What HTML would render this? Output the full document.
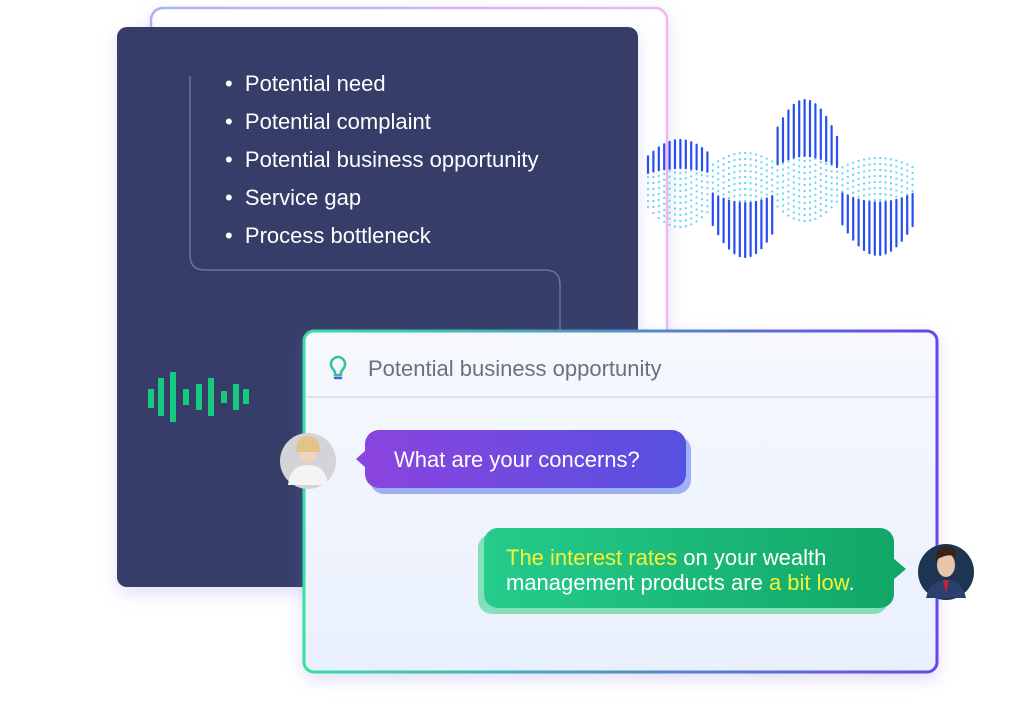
<!DOCTYPE html>
<html><head><meta charset="utf-8"><style>
html,body{margin:0;padding:0;background:#fff;width:1024px;height:725px;overflow:hidden;font-family:"Liberation Sans",sans-serif}
.abs{position:absolute}
</style></head><body>
<div style="position:relative;width:1024px;height:725px">
<svg class="abs" style="left:0;top:0" width="1024" height="725">
<defs>
<linearGradient id="bk" x1="0" x2="1"><stop offset="0" stop-color="#a9b2f7"/><stop offset="1" stop-color="#efb6f2"/></linearGradient>
<linearGradient id="cb" x1="0" x2="1"><stop offset="0" stop-color="#35e0a0"/><stop offset="1" stop-color="#6a45e8"/></linearGradient>
<linearGradient id="cbg" x1="0" y1="0" x2="0" y2="1"><stop offset="0" stop-color="#f6f8fd"/><stop offset="1" stop-color="#e9f0fd"/></linearGradient>
<linearGradient id="b1" x1="0" x2="1"><stop offset="0" stop-color="#8a44df"/><stop offset="1" stop-color="#5650e0"/></linearGradient>
<linearGradient id="b2" x1="0" x2="1"><stop offset="0" stop-color="#25cc8c"/><stop offset="1" stop-color="#11a766"/></linearGradient>
<filter id="sh" x="-10%" y="-10%" width="120%" height="130%"><feDropShadow dx="0" dy="6" stdDeviation="8" flood-color="#8a7be0" flood-opacity="0.25"/></filter>
</defs>
<rect x="151" y="8" width="516" height="400" rx="12" fill="#fff" stroke="url(#bk)" stroke-width="2.5" filter="url(#sh)"/>
<rect x="117" y="27" width="521" height="560" rx="10" fill="#343d68" filter="url(#sh)"/>
<path d="M190 76 V255 Q190 270 205 270 H545 Q560 270 560 285 V330" fill="none" stroke="#6d7598" stroke-width="1.5"/>
<g fill="#17c97f">
<rect x="148" y="389" width="6" height="19"/><rect x="158" y="378" width="6" height="38"/><rect x="170" y="372" width="6" height="50"/><rect x="183" y="389" width="6" height="16"/><rect x="196" y="384" width="6" height="26"/><rect x="208" y="378" width="6" height="38"/><rect x="221" y="391" width="6" height="12"/><rect x="233" y="384" width="6" height="26"/><rect x="243" y="389" width="6" height="15"/>
</g>
<g id="wave"></g>
<rect x="304" y="331" width="633" height="341" rx="10" fill="url(#cbg)" stroke="url(#cb)" stroke-width="3" filter="url(#sh)"/>
<line x1="306" y1="397" x2="935" y2="397" stroke="#d6dcea" stroke-width="1.5"/>
<g fill="none" stroke-width="2.5" stroke-linecap="round">
<path d="M331 364 a7 7 0 1 1 12 5 l-2 3 v3 h-6 v-3 l-2 -3 a7 7 0 0 1 -2 -5z" stroke="#2fc3a0"/>
<path d="M335 378 h6" stroke="#5a56e0"/>
</g>
<rect x="370" y="436" width="321" height="58" rx="14" fill="#9eb0f8"/>
<rect x="365" y="430" width="321" height="58" rx="14" fill="url(#b1)"/>
<path d="M366 450 L356 459 L366 468z" fill="#8a44df"/>
<rect x="478" y="534" width="410" height="80" rx="14" fill="#86dfbb"/>
<rect x="484" y="528" width="410" height="80" rx="14" fill="url(#b2)"/>
<path d="M893 558 L906 569 L893 580z" fill="#11a766"/>
<circle cx="308" cy="461" r="28" fill="#d2d4d8"/>
<ellipse cx="308" cy="452" rx="9" ry="11" fill="#f0d3bd"/>
<path d="M296 452 q0 -16 12 -16 q12 0 12 16" fill="#e2c48a"/>
<path d="M288 485 q2 -20 20 -20 q18 0 20 20z" fill="#f4f4f4"/>
<circle cx="946" cy="572" r="28" fill="#1d3552"/>
<ellipse cx="946" cy="565" rx="9" ry="12" fill="#e8c4ad"/>
<path d="M936 560 q0 -16 12 -14 q10 2 8 12 q-6 -6 -20 2z" fill="#3a2418"/>
<path d="M926 598 q4 -18 20 -18 q16 0 20 18z" fill="#2b3f70"/>
<path d="M943 580 h6 l-3 14z" fill="#c0233a"/>
</svg>
<div class="abs" style="left:225px;top:65px;color:#fff;font-size:22px;line-height:38px">
<div>•&nbsp;&nbsp;Potential need</div>
<div>•&nbsp;&nbsp;Potential complaint</div>
<div>•&nbsp;&nbsp;Potential business opportunity</div>
<div>•&nbsp;&nbsp;Service gap</div>
<div>•&nbsp;&nbsp;Process bottleneck</div>
</div>
<div class="abs" style="left:368px;top:356px;color:#6b7080;font-size:22px">Potential business opportunity</div>
<div class="abs" style="left:394px;top:447px;color:#fff;font-size:22px">What are your concerns?</div>
<div class="abs" style="left:506px;top:545px;color:#fff;font-size:22px;line-height:25px"><span style="color:#f4f23a">The interest rates</span> on your wealth<br>management products are <span style="color:#f4f23a">a bit low</span>.</div>
</div>
<script>
(function(){
var g=document.getElementById('wave');
var L=[[680,34,40,-1,48],[745,34,77,1,28],[805,32,80,-1,42],[878,38,75,1,23]];
var cy=180,s='';
for(var x=648;x<=916;x+=5.4){
 var best=null,bv=0;
 for(var i=0;i<L.length;i++){var l=L[i],d=(x-l[0])/l[1];var v=Math.max(0,Math.cos(Math.min(Math.abs(d),1.57)));if(v>bv){bv=v;best=l;}}
 if(!best)continue;
 var a=Math.max(6,best[2]*bv),b=Math.max(5,best[4]*bv),sg=best[3];
 var m=cy+sg*a*0.3;
 s+='<line x1="'+x.toFixed(1)+'" y1="'+(cy-sg*b).toFixed(1)+'" x2="'+x.toFixed(1)+'" y2="'+m.toFixed(1)+'" stroke="#5fd8f0" stroke-width="2" stroke-dasharray="2 4"/>';
 s+='<line x1="'+x.toFixed(1)+'" y1="'+m.toFixed(1)+'" x2="'+x.toFixed(1)+'" y2="'+(cy+sg*a).toFixed(1)+'" stroke="#2a4ff0" stroke-width="2.2" stroke-linecap="round"/>';
}
g.innerHTML=s;
})();
</script>
</body></html>
